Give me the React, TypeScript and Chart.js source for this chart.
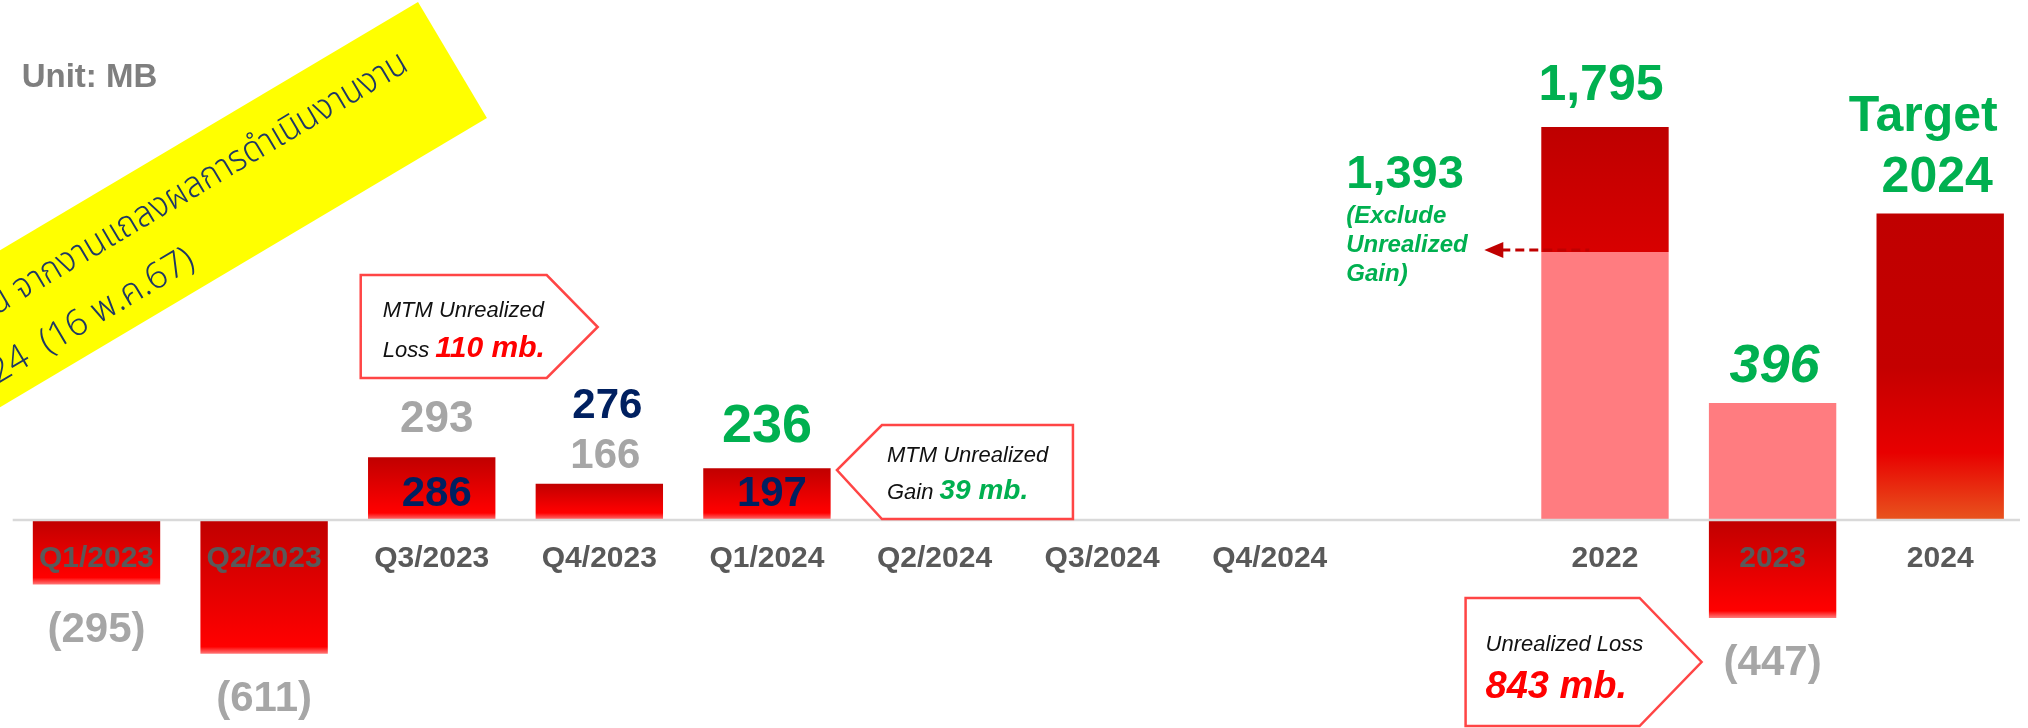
import React, { useEffect, useRef } from "react";
import { Chart, registerables } from "chart.js";

Chart.register(...registerables);

// ---------------- data ----------------
const categories = [
  "Q1/2023", "Q2/2023", "Q3/2023", "Q4/2023", "Q1/2024", "Q2/2024",
  "Q3/2024", "Q4/2024", "", "2022", "2023", "2024",
];
// net profit (red bars), MB
const netProfit = [-295, -611, 286, 166, 236, null, null, null, null, null, -447, null];
// profit excluding unrealized items (pink part, as drawn)
const exclUnrealized = [null, null, null, null, null, null, null, null, null, 1224, 534, null];
// unrealized gain on top of 2022 (dark part, as drawn)
const unrealizedGain = [null, null, null, null, null, null, null, null, null, 571, null, null];
// 2024 target bar (as drawn)
const target2024 = [null, null, null, null, null, null, null, null, null, null, null, 1400];

const grayValueLabels = ["(295)", "(611)", "293", "166", "", "", "", "", "", "", "(447)", ""];
const navyValueLabels = ["", "", "286", "276", "197", "", "", "", "", "", "", ""];
const greenValueLabels = ["", "", "", "", "236", "", "", "", "", "1,795", "396", ""];
const targetLabels = ["Target", "2024"];
const exclLabel = "1,393";
const exclNote = ["(Exclude", "Unrealized", "Gain)"];
const calloutLoss = ["MTM Unrealized", "Loss ", "110 mb."];
const calloutGain = ["MTM Unrealized", "Gain ", "39 mb."];
const calloutYear = ["Unrealized Loss", "843 mb."];
const unitLabel = "Unit: MB";
const bannerLines = ["น จากงานแถลงผลการดำเนินงานงาน", "24  (16 พ.ค.67)"];

// ---------------- styles ----------------
const F = '"Liberation Sans", Arial, sans-serif';
const GRAY = "#A6A6A6";
const NAVY = "#002060";
const GREEN = "#00B050";
const AXIS = "#595959";
const RED = "#FF0000";
const PINK = "#FF7C80";
const OUTLINE = "#FF4545";

function redGradient(ctx: any) {
  const chart = ctx.chart;
  const { chartArea, scales } = chart;
  if (!chartArea || !scales || !scales.y) return "#E00000";
  const v = ctx.raw;
  if (v == null) return "rgba(0,0,0,0)";
  const y0 = scales.y.getPixelForValue(0);
  const y1 = scales.y.getPixelForValue(v);
  const top = Math.min(y0, y1);
  const bot = Math.max(y0, y1);
  const h = Math.max(bot - top, 1);
  const g = chart.ctx.createLinearGradient(0, top, 0, bot);
  const fade = Math.min(0.3, 7 / h);
  g.addColorStop(0, "#C00000");
  g.addColorStop(Math.max(0.05, 1 - fade - 0.12), "#F80000");
  g.addColorStop(1 - fade, "#FF0000");
  g.addColorStop(1, "#FF7A7A");
  return g;
}

function targetGradient(ctx: any) {
  const chart = ctx.chart;
  const { chartArea, scales } = chart;
  if (!chartArea || !scales || !scales.y) return "#C00000";
  const v = ctx.raw;
  if (v == null) return "rgba(0,0,0,0)";
  const top = scales.y.getPixelForValue(v);
  const bot = scales.y.getPixelForValue(0);
  const g = chart.ctx.createLinearGradient(0, top, 0, bot);
  g.addColorStop(0, "#C00000");
  g.addColorStop(0.5, "#C40000");
  g.addColorStop(0.78, "#E80000");
  g.addColorStop(1, "#E8541E");
  return g;
}

function darkGradient(ctx: any) {
  const chart = ctx.chart;
  const { chartArea, scales } = chart;
  if (!chartArea || !scales || !scales.y) return "#C80000";
  const i = ctx.dataIndex;
  const v = ctx.raw;
  if (v == null) return "rgba(0,0,0,0)";
  const base = (exclUnrealized[i] as number) || 0;
  const top = scales.y.getPixelForValue(base + v);
  const bot = scales.y.getPixelForValue(base);
  const g = chart.ctx.createLinearGradient(0, top, 0, bot);
  g.addColorStop(0, "#BE0000");
  g.addColorStop(1, "#D80000");
  return g;
}

function drawRuns(ctx: CanvasRenderingContext2D, x: number, y: number, parts: [string, string, string][]) {
  let cx = x;
  ctx.textAlign = "left";
  ctx.textBaseline = "alphabetic";
  for (const [t, font, color] of parts) {
    ctx.font = font;
    ctx.fillStyle = color;
    ctx.fillText(t, cx, y);
    cx += ctx.measureText(t).width;
  }
}

function text(ctx: CanvasRenderingContext2D, t: string, x: number, y: number, font: string, color: string, align: CanvasTextAlign = "center") {
  ctx.font = font;
  ctx.fillStyle = color;
  ctx.textAlign = align;
  ctx.textBaseline = "alphabetic";
  ctx.fillText(t, x, y);
}

function arrowBox(ctx: CanvasRenderingContext2D, left: number, right: number, top: number, bottom: number, tipX: number, tipY: number, dir: "left" | "right") {
  ctx.beginPath();
  if (dir === "right") {
    ctx.moveTo(left, top);
    ctx.lineTo(right, top);
    ctx.lineTo(tipX, tipY);
    ctx.lineTo(right, bottom);
    ctx.lineTo(left, bottom);
  } else {
    ctx.moveTo(right, top);
    ctx.lineTo(left, top);
    ctx.lineTo(tipX, tipY);
    ctx.lineTo(left, bottom);
    ctx.lineTo(right, bottom);
  }
  ctx.closePath();
  ctx.fillStyle = "#FFFFFF";
  ctx.fill();
  ctx.lineWidth = 2.5;
  ctx.strokeStyle = OUTLINE;
  ctx.stroke();
}

// draw a right-aligned line of text squeezed horizontally to a given width
function fitText(ctx: CanvasRenderingContext2D, t: string, right: number, baseline: number, width: number) {
  const w = ctx.measureText(t).width || 1;
  const sx = width / w;
  ctx.save();
  ctx.translate(right, baseline);
  ctx.scale(sx, 1);
  ctx.textAlign = "right";
  ctx.fillText(t, 0, 0);
  ctx.restore();
}

const annotationPlugin = {
  id: "annotations",
  afterDatasetsDraw(chart: any) {
    const { ctx, chartArea } = chart;
    const xs = chart.scales.x;
    const ys = chart.scales.y;
    const y0 = ys.getPixelForValue(0);
    const cx = (i: number) => xs.getPixelForValue(i);
    const net = chart.getDatasetMeta(2).data;
    const pink = chart.getDatasetMeta(0).data;
    const dark = chart.getDatasetMeta(1).data;
    const tgt = chart.getDatasetMeta(3).data;

    ctx.save();
    // zero line
    ctx.strokeStyle = "#D9D9D9";
    ctx.lineWidth = 2.5;
    ctx.beginPath();
    ctx.moveTo(chartArea.left, y0);
    ctx.lineTo(chartArea.right - 4, y0);
    ctx.stroke();

    // category labels
    categories.forEach((c, i) => {
      if (!c) return;
      text(ctx, c, cx(i), y0 + 47, `bold 30px ${F}`, AXIS);
    });

    // gray value labels
    grayValueLabels.forEach((t, i) => {
      if (!t) return;
      const el = net[i];
      const v = netProfit[i] as number;
      if (v < 0) {
        const bottom = Math.max(el.y, el.base);
        text(ctx, t, el.x, bottom + 57, `bold 42px ${F}`, GRAY);
      } else if (i === 2) {
        text(ctx, t, el.x + 5, el.y - 25, `bold 44px ${F}`, GRAY);
      } else {
        text(ctx, t, el.x + 6, el.y - 16, `bold 42px ${F}`, GRAY);
      }
    });

    // navy labels
    navyValueLabels.forEach((t, i) => {
      if (!t) return;
      const el = net[i];
      if (i === 3) {
        text(ctx, t, el.x + 8, el.y - 66, `bold 42px ${F}`, NAVY);
      } else {
        text(ctx, t, el.x + 5, y0 - 14, `bold 42px ${F}`, NAVY);
      }
    });

    // green labels
    greenValueLabels.forEach((t, i) => {
      if (!t) return;
      if (i === 4) {
        const el = net[i];
        text(ctx, t, el.x, el.y - 26, `bold 54px ${F}`, GREEN);
      } else if (i === 9) {
        const el = dark[i];
        text(ctx, t, el.x - 4, el.y - 27, `bold 50px ${F}`, GREEN);
      } else if (i === 10) {
        const el = pink[i];
        text(ctx, t, el.x + 2, el.y - 21, `italic bold 54px ${F}`, GREEN);
      }
    });

    // target label
    const t11 = tgt[11];
    text(ctx, targetLabels[0], t11.x - 17, t11.y - 82, `bold 50px ${F}`, GREEN);
    text(ctx, targetLabels[1], t11.x - 3, t11.y - 21, `bold 50px ${F}`, GREEN);

    // 1,393 annotation + dashed arrow
    const p9 = pink[9];
    const barLeft = p9.x - p9.width / 2;
    const split = p9.y;
    text(ctx, exclLabel, barLeft - 195, split - 64, `bold 47px ${F}`, GREEN, "left");
    exclNote.forEach((t, k) => {
      text(ctx, t, barLeft - 195, split - 29 + k * 29, `italic bold 24px ${F}`, GREEN, "left");
    });
    ctx.strokeStyle = "#C00000";
    ctx.lineWidth = 3;
    ctx.setLineDash([9, 5]);
    ctx.beginPath();
    ctx.moveTo(barLeft - 40, split - 2);
    ctx.lineTo(barLeft + 48, split - 2);
    ctx.stroke();
    ctx.setLineDash([]);
    ctx.fillStyle = "#C00000";
    ctx.beginPath();
    ctx.moveTo(barLeft - 57, split - 2);
    ctx.lineTo(barLeft - 38, split - 10);
    ctx.lineTo(barLeft - 38, split + 6);
    ctx.closePath();
    ctx.fill();

    // callout: MTM unrealized loss (Q3/2023)
    const c2 = cx(2);
    arrowBox(ctx, c2 - 71, c2 + 115, y0 - 245, y0 - 142, c2 + 166, y0 - 193, "right");
    drawRuns(ctx, c2 - 49, y0 - 203, [[calloutLoss[0], `italic 22px ${F}`, "#111111"]]);
    drawRuns(ctx, c2 - 49, y0 - 163, [
      [calloutLoss[1], `italic 22px ${F}`, "#111111"],
      [calloutLoss[2], `italic bold 30px ${F}`, RED],
    ]);

    // callout: MTM unrealized gain (Q1/2024)
    const c4 = cx(4);
    arrowBox(ctx, c4 + 115, c4 + 306, y0 - 95, y0 - 1, c4 + 70, y0 - 50, "left");
    drawRuns(ctx, c4 + 120, y0 - 58, [[calloutGain[0], `italic 22px ${F}`, "#111111"]]);
    drawRuns(ctx, c4 + 120, y0 - 21, [
      [calloutGain[1], `italic 22px ${F}`, "#111111"],
      [calloutGain[2], `italic bold 28px ${F}`, GREEN],
    ]);

    // callout: unrealized loss (2023)
    const c10 = cx(10);
    arrowBox(ctx, c10 - 307, c10 - 133, y0 + 78, y0 + 206, c10 - 71, y0 + 142, "right");
    drawRuns(ctx, c10 - 287, y0 + 131, [[calloutYear[0], `italic 22px ${F}`, "#111111"]]);
    drawRuns(ctx, c10 - 287, y0 + 178, [[calloutYear[1], `italic bold 38px ${F}`, RED]]);

    // unit label
    text(ctx, unitLabel, chartArea.left + 9, chartArea.top + 5, `bold 33px ${F}`, "#7F7F7F", "left");

    // yellow banner
    ctx.save();
    ctx.translate(418, 2);
    ctx.rotate((-30.7 * Math.PI) / 180);
    ctx.fillStyle = "#FFFF00";
    ctx.fillRect(-1200, 0, 1200, 135);
    ctx.fillStyle = "#1F3864";
    ctx.textBaseline = "alphabetic";
    ctx.font = `300 36px "Noto Sans Thai", "Noto Sans Thai Looped", "Loma", "Garuda", "Norasi", "Tlwg Typo", "DejaVu Sans", sans-serif`;
    fitText(ctx, bannerLines[0], -41, 54, 482);
    fitText(ctx, bannerLines[1], -325, 114, 232);
    ctx.restore();

    ctx.restore();
  },
};

export default function App() {
  const ref = useRef<HTMLCanvasElement | null>(null);

  useEffect(() => {
    if (!ref.current) return;
    const chart = new Chart(ref.current, {
      type: "bar",
      data: {
        labels: categories,
        datasets: [
          { label: "Excl. unrealized", data: exclUnrealized, backgroundColor: PINK, stack: "s" },
          { label: "Unrealized gain", data: unrealizedGain, backgroundColor: darkGradient as any, stack: "s" },
          { label: "Net profit", data: netProfit, backgroundColor: redGradient as any, stack: "s" },
          { label: "Target", data: target2024, backgroundColor: targetGradient as any, stack: "s" },
        ],
      },
      options: {
        animation: false,
        responsive: false,
        maintainAspectRatio: false,
        devicePixelRatio: 1,
        layout: { padding: { left: 12.7, right: 4, top: 82, bottom: 10.9 } },
        datasets: { bar: { barPercentage: 0.76, categoryPercentage: 1.0, borderWidth: 0 } },
        plugins: { legend: { display: false }, tooltip: { enabled: false } },
        scales: {
          x: { display: false, stacked: true, grid: { display: false } },
          y: { display: false, stacked: true, min: -900, max: 2000, grid: { display: false } },
        },
      },
      plugins: [annotationPlugin],
    });
    return () => chart.destroy();
  }, []);

  return (
    <div style={{ position: "fixed", left: 0, top: 0, width: 2028, height: 728, background: "#FFFFFF", overflow: "hidden" }}>
      <canvas ref={ref} width={2028} height={728} style={{ width: 2028, height: 728, display: "block" }} />
    </div>
  );
}
